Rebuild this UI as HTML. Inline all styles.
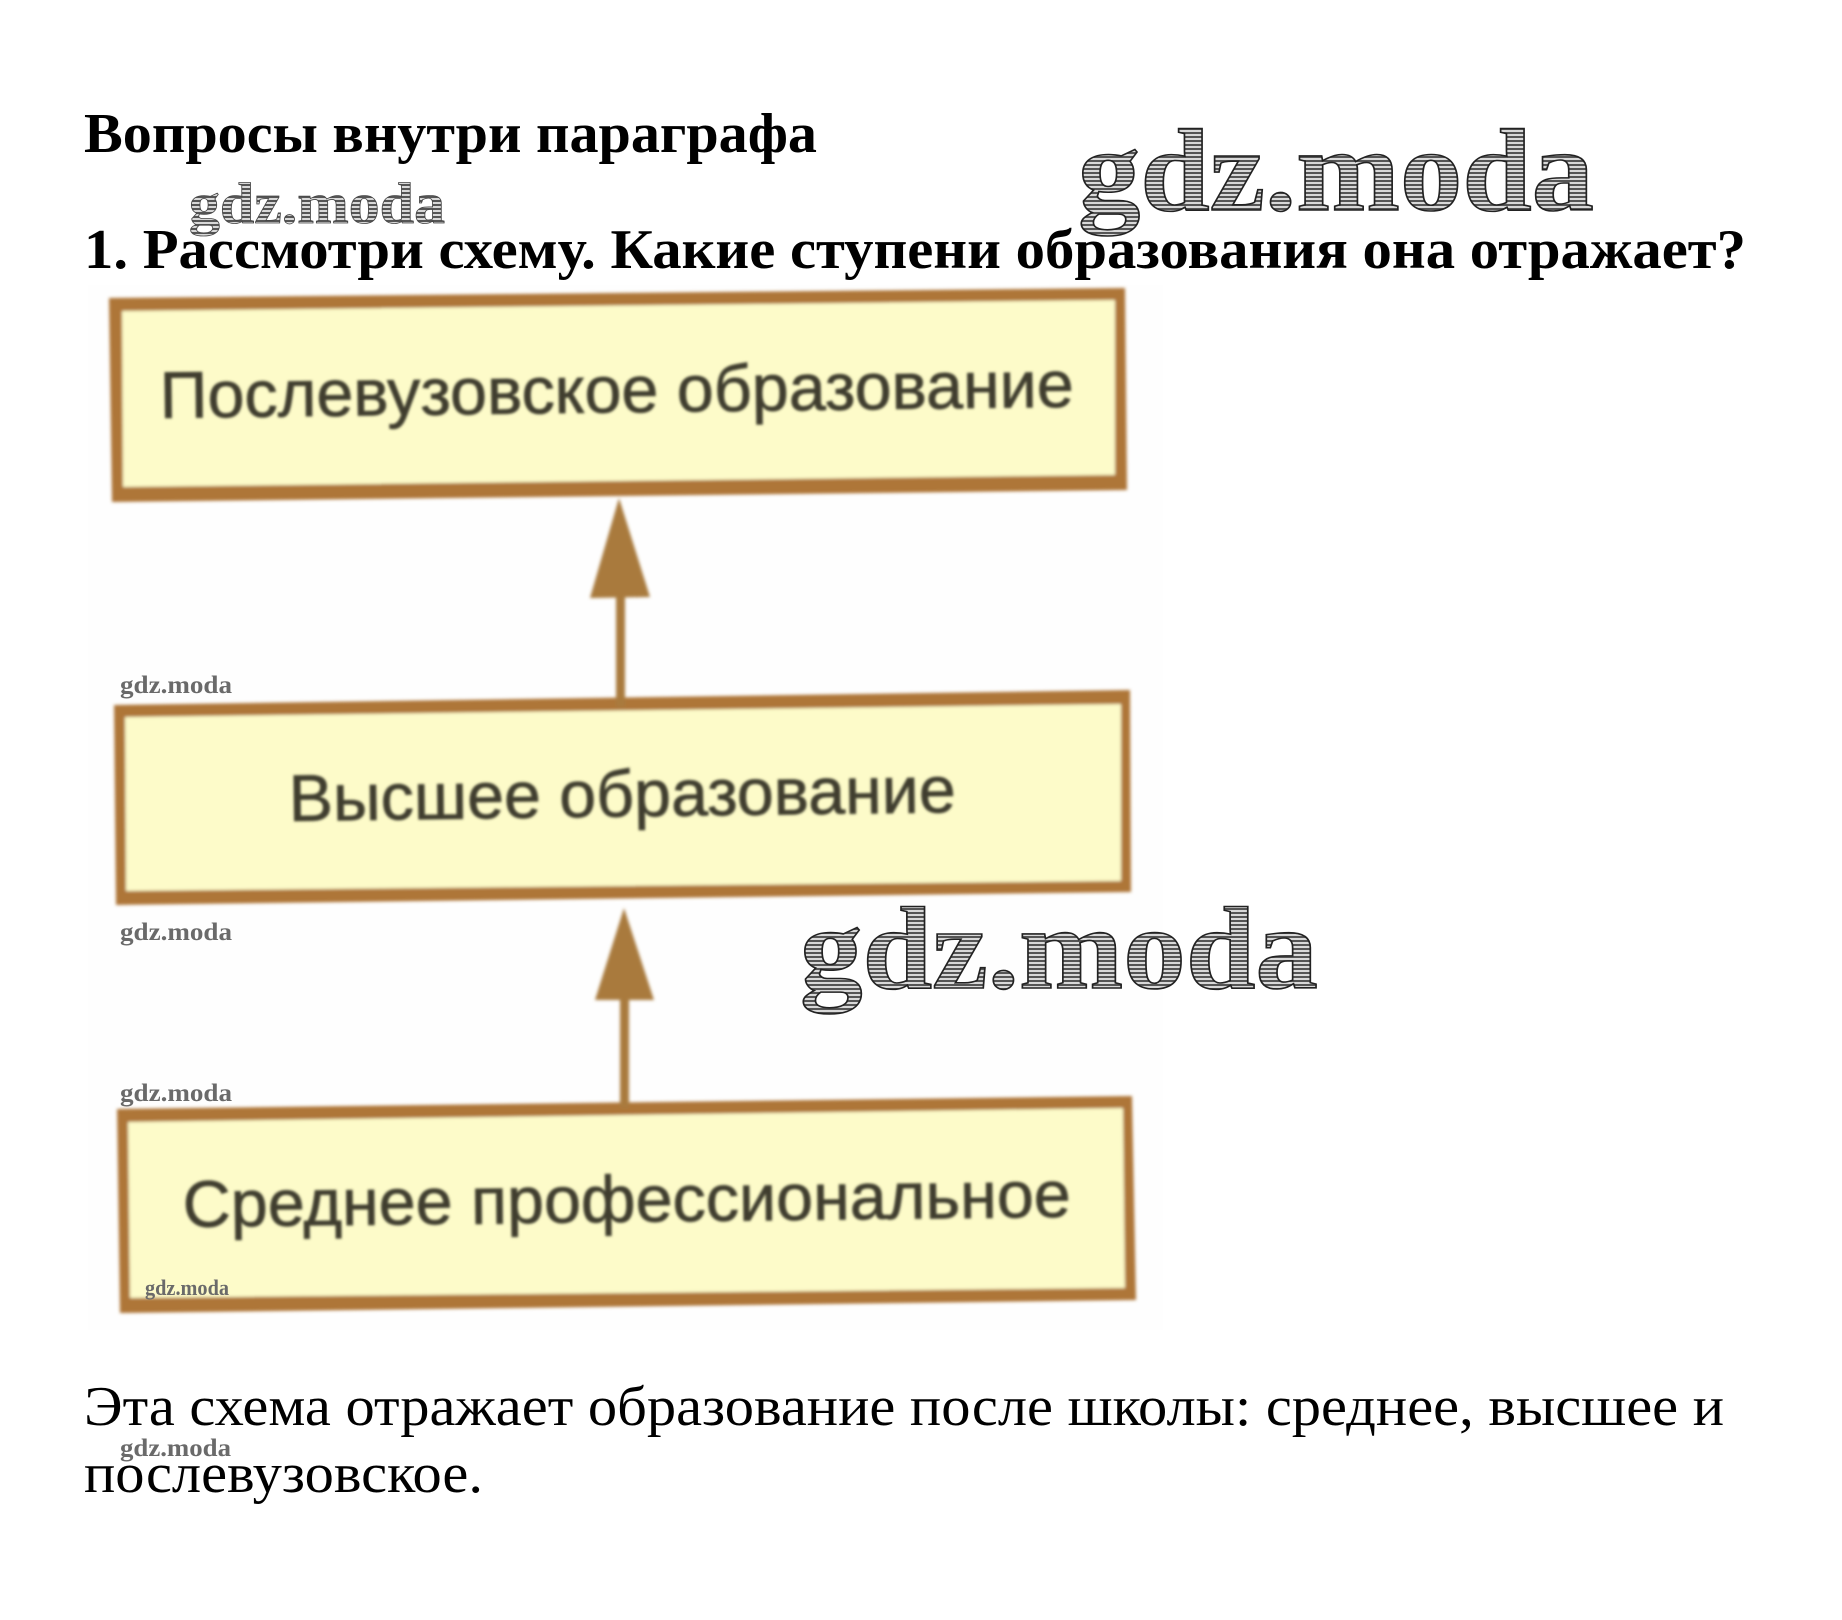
<!DOCTYPE html>
<html lang="ru"><head><meta charset="utf-8"><title>Вопросы внутри параграфа</title>
<style>html,body{margin:0;padding:0;background:#fff}svg{display:block}</style></head>
<body>
<svg xmlns="http://www.w3.org/2000/svg" width="1842" height="1620" viewBox="0 0 1842 1620">
<defs>
<pattern id="h" width="4" height="4" patternUnits="userSpaceOnUse"><rect width="4" height="4" fill="#d8d8d8"/><rect width="4" height="2" fill="#555"/></pattern>
<filter id="b" x="-5%" y="-5%" width="110%" height="110%"><feGaussianBlur stdDeviation="1.5"/></filter>
<filter id="t" x="-5%" y="-20%" width="110%" height="140%"><feGaussianBlur stdDeviation="1.4"/></filter>
</defs>
<rect x="88" y="285" width="1075" height="1045" fill="#fefefe"/>
<g filter="url(#b)">
<polygon points="109,298 1125,288 1127,490 112,502" fill="#ae7639"/>
<polygon points="122,311 1115,300 1115,475 123,487" fill="#fdfbc9"/>
<polygon points="114,705 1130,690 1131,892 116,905" fill="#ae7639"/>
<polygon points="125,717 1121,704 1121,881 126,891" fill="#fdfbc9"/>
<polygon points="117,1109 1132,1096 1136,1300 120,1313" fill="#ae7639"/>
<polygon points="128,1122 1123,1108 1125,1288 130,1298" fill="#fdfbc9"/>
<polygon points="619,498 650,597 590,598" fill="#a97a3c"/>
<rect x="616" y="595" width="9" height="112" fill="#a97a3c"/>
<polygon points="624,908 654,1000 595,1000" fill="#a97a3c"/>
<rect x="620" y="998" width="9" height="110" fill="#a97a3c"/>
</g>
<g font-family="'Liberation Sans',sans-serif" font-size="66" fill="#3f3e2e" stroke="#3f3e2e" stroke-width=".7" filter="url(#t)">
<text transform="translate(160,418) rotate(-0.7)" textLength="914" lengthAdjust="spacingAndGlyphs">Послевузовское образование</text>
<text transform="translate(289,821) rotate(-0.75)" textLength="667" lengthAdjust="spacingAndGlyphs">Высшее образование</text>
<text transform="translate(183,1227) rotate(-0.65)" textLength="888" lengthAdjust="spacingAndGlyphs">Среднее профессиональное</text>
</g>
<g font-family="'Liberation Serif',serif" fill="#000">
<text x="84" y="152" font-size="56" font-weight="700" textLength="733" lengthAdjust="spacingAndGlyphs">Вопросы внутри параграфа</text>
<text x="84" y="268" font-size="56" font-weight="700" textLength="1662" lengthAdjust="spacingAndGlyphs">1. Рассмотри схему. Какие ступени образования она отражает?</text>
<text x="84" y="1425" font-size="56" textLength="1640" lengthAdjust="spacingAndGlyphs">Эта схема отражает образование после школы: среднее, высшее и</text>
<text x="84" y="1492" font-size="56" textLength="399" lengthAdjust="spacingAndGlyphs">послевузовское.</text>
</g>
<g font-family="'Liberation Serif',serif" font-weight="700" fill="url(#h)" stroke="#222">
<text x="1078" y="210" font-size="118" stroke-width="1.6" textLength="516" lengthAdjust="spacingAndGlyphs">gdz.moda</text>
<text x="800" y="988" font-size="118" stroke-width="1.6" textLength="518" lengthAdjust="spacingAndGlyphs">gdz.moda</text>
<text x="189" y="223" font-size="58" stroke-width=".8" stroke="#444" textLength="256" lengthAdjust="spacingAndGlyphs">gdz.moda</text>
</g>
<g font-family="'Liberation Serif',serif" font-weight="700" fill="#6a6a6a" font-size="25">
<text x="120" y="693" textLength="112" lengthAdjust="spacingAndGlyphs">gdz.moda</text>
<text x="120" y="940" textLength="112" lengthAdjust="spacingAndGlyphs">gdz.moda</text>
<text x="120" y="1101" textLength="112" lengthAdjust="spacingAndGlyphs">gdz.moda</text>
<text x="145" y="1295" font-size="22" textLength="84" lengthAdjust="spacingAndGlyphs">gdz.moda</text>
<text x="120" y="1456" textLength="111" lengthAdjust="spacingAndGlyphs">gdz.moda</text>
</g>
</svg>
</body></html>
